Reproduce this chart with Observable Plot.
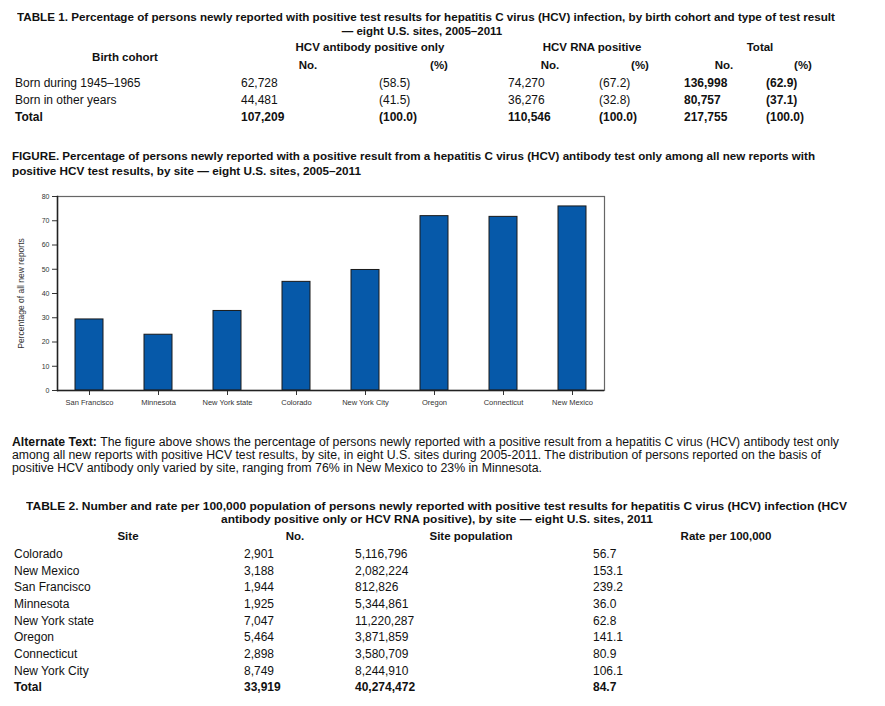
<!DOCTYPE html>
<html>
<head>
<meta charset="utf-8">
<script src="https://cdn.jsdelivr.net/npm/d3@7"></script>
<script src="https://cdn.jsdelivr.net/npm/@observablehq/plot@0.6"></script>
<style>
  html, body { margin: 0; padding: 0; background: #fff; }
  #page { position: relative; width: 885px; height: 706px; overflow: hidden; font-family: "Liberation Sans", Arial, Helvetica, sans-serif; color: #111; }
  .t { position: absolute; white-space: nowrap; line-height: 1; transform-origin: 0 50%; }
  #chart { position: absolute; left: 0; top: 185px; }
</style>
</head>
<body>
<div id="page"><div id="chart"></div></div>
<script>
// ---------- TABLE 1 data ----------
const t1Title = ["TABLE 1. Percentage of persons newly reported with positive test results for hepatitis C virus (HCV) infection, by birth cohort and type of test result",
                 "— eight U.S. sites, 2005–2011"];
const t1Groups = ["HCV antibody positive only", "HCV RNA positive", "Total"];
const t1Cohorts = ["Born during 1945–1965", "Born in other years", "Total"];
const abNo = [62728, 44481, 107209];
const abPct = [58.5, 41.5, 100.0];
const rnaNo = [74270, 36276, 110546];
const rnaPct = [67.2, 32.8, 100.0];
const totNo = [136998, 80757, 217755];
const totPct = [62.9, 37.1, 100.0];

// ---------- FIGURE data ----------
const figTitle = ["FIGURE. Percentage of persons newly reported with a positive result from a hepatitis C virus (HCV) antibody test only among all new reports with",
                  "positive HCV test results, by site — eight U.S. sites, 2005–2011"];
const sites = ["San Francisco", "Minnesota", "New York state", "Colorado", "New York City", "Oregon", "Connecticut", "New Mexico"];
const antibodyOnlyPct = [29.3, 23.0, 32.8, 44.8, 49.7, 71.9, 71.6, 75.9];
const yTicks = [0, 10, 20, 30, 40, 50, 60, 70, 80];
const yLabel = "Percentage of all new reports";

const altText = ["<b>Alternate Text:</b> The figure above shows the percentage of persons newly reported with a positive result from a hepatitis C virus (HCV) antibody test only",
                 "among all new reports with positive HCV test results, by site, in eight U.S. sites during 2005-2011. The distribution of persons reported on the basis of",
                 "positive HCV antibody only varied by site, ranging from 76% in New Mexico to 23% in Minnesota."];

// ---------- TABLE 2 data ----------
const t2Title = ["TABLE 2. Number and rate per 100,000 population of persons newly reported with positive test results for hepatitis C virus (HCV) infection (HCV",
                 "antibody positive only or HCV RNA positive), by site — eight U.S. sites, 2011"];
const t2Headers = ["Site", "No.", "Site population", "Rate per 100,000"];
const t2Sites = ["Colorado", "New Mexico", "San Francisco", "Minnesota", "New York state", "Oregon", "Connecticut", "New York City", "Total"];
const t2No = [2901, 3188, 1944, 1925, 7047, 5464, 2898, 8749, 33919];
const t2Pop = [5116796, 2082224, 812826, 5344861, 11220287, 3871859, 3580709, 8244910, 40274472];
const t2Rate = [56.7, 153.1, 239.2, 36.0, 62.8, 141.1, 80.9, 106.1, 84.7];

// ---------- helpers ----------
const page = document.getElementById("page");
const comma = d3.format(",");
function txt(s, x, y, o = {}) {
  const size = o.size || 12;
  const el = document.createElement("div");
  el.className = "t";
  el.style.fontSize = size + "px";
  if (o.bold) el.style.fontWeight = "bold";
  if (o.color) el.style.color = o.color;
  el.innerHTML = s;
  page.appendChild(el);
  const w = el.getBoundingClientRect().width;
  let sx = 1;
  if (o.x2 != null) sx = (o.x2 - x) / w;
  let left = x;
  if (o.anchor === "middle") left = x - (w * sx) / 2;
  else if (o.anchor === "end") left = x - w * sx;
  el.style.left = left + "px";
  el.style.top = (y - size / 2) + "px";
  if (sx !== 1) el.style.transform = `scaleX(${sx})`;
  return el;
}

// ---------- TABLE 1 ----------
txt(t1Title[0], 17, 18, {bold: true, size: 11.5, x2: 835});
txt(t1Title[1], 422, 32, {bold: true, size: 11.5, anchor: "middle"});
txt("Birth cohort", 125, 58, {bold: true, size: 11.5, anchor: "middle"});
const groupCx = [370, 592, 760];
t1Groups.forEach((g, i) => txt(g, groupCx[i], 48, {bold: true, size: 11.5, anchor: "middle"}));
const subCx = [[308, 439], [550, 640], [724, 803]];
subCx.forEach(([a, b]) => { txt("No.", a, 66, {bold: true, size: 11.5, anchor: "middle"}); txt("(%)", b, 66, {bold: true, size: 11.5, anchor: "middle"}); });
const rowY1 = [83, 100, 117];
t1Cohorts.forEach((c, i) => {
  const last = i === t1Cohorts.length - 1;
  const y = rowY1[i];
  txt(c, 15, y, {bold: last});
  txt(comma(abNo[i]), 241, y, {bold: last});
  txt("(" + abPct[i].toFixed(1) + ")", 379, y, {bold: last});
  txt(comma(rnaNo[i]), 508, y, {bold: last});
  txt("(" + rnaPct[i].toFixed(1) + ")", 599, y, {bold: last});
  txt(comma(totNo[i]), 684, y, {bold: true});
  txt("(" + totPct[i].toFixed(1) + ")", 766, y, {bold: true});
});

// ---------- FIGURE ----------
txt(figTitle[0], 12, 157, {bold: true, size: 11.5, x2: 815});
txt(figTitle[1], 12, 172, {bold: true, size: 11.5, x2: 361});

const chart = Plot.plot({
  width: 620,
  height: 230,
  marginLeft: 57,
  marginRight: 16,
  marginTop: 11,
  marginBottom: 25,
  style: {fontFamily: "'Liberation Sans', Arial, sans-serif", background: "transparent", color: "#333", overflow: "visible"},
  x: {domain: sites, paddingInner: 0.59, paddingOuter: 0.226, label: null},
  y: {domain: [0, 80], label: null},
  marks: [
    Plot.frame({stroke: "#666", strokeWidth: 1.2}),
    Plot.barY(sites, {x: d => d, y: (d, i) => antibodyOnlyPct[i], fill: "#0659a9", stroke: "#1a1a1a", strokeWidth: 1}),
    Plot.axisY({ticks: yTicks, tickSize: 5, tickPadding: 3, fontSize: 7, stroke: "#333", label: yLabel, labelAnchor: "center", labelArrow: "none", labelOffset: 40}),
    Plot.axisX({tickSize: 5, tickPadding: 4, fontSize: 7.5, stroke: "#333", label: null}),
    Plot.frame({anchor: "left", stroke: "#222", strokeWidth: 1.5}),
    Plot.ruleY([0], {stroke: "#222", strokeWidth: 1.5})
  ]
});
chart.querySelectorAll("g[aria-label='y-axis label'] text").forEach(t => t.setAttribute("font-size", 8.5));
document.getElementById("chart").appendChild(chart);

// ---------- Alternate text ----------
txt(altText[0], 12, 442, {size: 12, x2: 839});
txt(altText[1], 12, 455, {size: 12, x2: 821});
txt(altText[2], 12, 468, {size: 12, x2: 542});

// ---------- TABLE 2 ----------
txt(t2Title[0], 26, 507, {bold: true, size: 11.5, x2: 847});
txt(t2Title[1], 221, 520, {bold: true, size: 11.5, x2: 653});
const hdrCx = [128, 295, 471, 726];
t2Headers.forEach((h, i) => txt(h, hdrCx[i], 537, {bold: true, size: 11.5, anchor: "middle"}));
t2Sites.forEach((s, i) => {
  const last = i === t2Sites.length - 1;
  const y = 554 + i * 16.67;
  txt(s, 14, y, {bold: last});
  txt(comma(t2No[i]), 244, y, {bold: last});
  txt(comma(t2Pop[i]), 355, y, {bold: last});
  txt(t2Rate[i].toFixed(1), 593, y, {bold: last});
});
</script>
</body>
</html>
